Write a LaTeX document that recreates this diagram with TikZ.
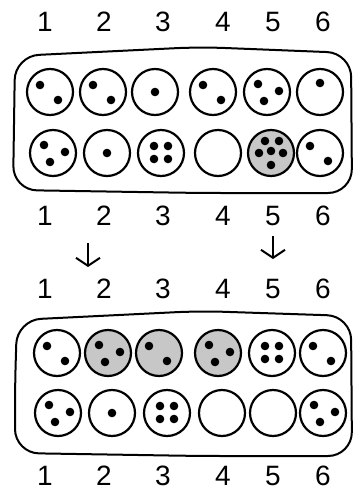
\documentclass[tikz,border=0pt]{standalone}
\usepackage{fontspec}
\setmainfont{Liberation Sans}
\usetikzlibrary{arrows.meta}

\tikzset{
  pit/.style={circle, draw, line width=2.2pt, minimum size=46pt, inner sep=0pt},
  plein/.style={pit, fill=black!22},
  board/.style={line width=2pt, rounded corners=24pt},
  numero/.style={font=\fontsize{28}{30}\selectfont, inner sep=0pt},
  fleche/.style={line width=2pt, -{Straight Barb[length=8pt,width=24pt,line width=2pt]}},
}

% graines dans un trou : #1 nom du trou, #2 nombre de graines
\newcommand{\graines}[2]{%
  \ifcase#2
  \or \fill[shift={(#1)}] (0,0) circle (4.3);
  \or \fill[shift={(#1)}] (-10,-7) circle (4.3) (8,8) circle (4.3);
  \or \fill[shift={(#1)}] (-9,-8) circle (4.3) (12,-1) circle (4.3) (-3,9) circle (4.3);
  \or \fill[shift={(#1)}] (-7,-7) circle (4.3) (7,-7) circle (4.3) (-7,6) circle (4.3) (7,6) circle (4.3);
  \or
  \or \fill[shift={(#1)}] (-6,-12) circle (4.3) (8,-12) circle (4.3) (-12,0) circle (4.3)
        (0,-2) circle (4.3) (12,0) circle (4.3) (0,12) circle (4.3);
  \fi}

\begin{document}
\begin{tikzpicture}[x=1pt, y=-1pt]
\useasboundingbox (0,0) rectangle (360,493);

% Numeros des trous
\foreach \y/\r in {22/a, 216/b, 289/c, 476/d}
  \foreach \x [count=\i] in {45,104,163,223,273,323}
    \node[numero] (n\r-\i) at (\x,\y) {\i};

% Plateau du haut
\draw[board] (14,125) -- (15,56) -- (200,47) -- (351,53) -- (352,193) -- (200,193) -- (13,190) -- cycle;

\foreach \x/\n/\s [count=\i] in {50/2/pit, 103/2/pit, 155/1/pit, 213/2/pit, 267/3/pit, 320/0/pit} {
  \node[\s] (h1-\i) at (\x,92) {};
  \graines{h1-\i}{\n}
}
% graine unique en haut du trou 6
\fill[shift={(h1-6)}] (0,-9) circle (4.3);

\foreach \x/\n/\s [count=\i] in {53/3/pit, 107/1/pit, 161/4/pit, 218/0/pit, 271/6/plein, 320/2/pit} {
  \node[\s] (h2-\i) at (\x,153) {};
  \graines{h2-\i}{\n}
}

% Fleches
\coordinate (f1a) at (88,243);
\coordinate (f1b) at (88,267);
\coordinate (f2a) at (273,236);
\coordinate (f2b) at (273,259);
\draw[fleche] (f1a) -- (f1b);
\draw[fleche] (f2a) -- (f2b);

% Plateau du bas
\draw[board] (15,385) -- (17,320) -- (200,311) -- (351,316) -- (352,456) -- (200,456) -- (15,453) -- cycle;

\foreach \x/\n/\s [count=\i] in {57/2/pit, 108/3/plein, 159/2/plein, 218/3/plein, 272/4/pit, 323/2/pit} {
  \node[\s] (b1-\i) at (\x,353) {};
  \graines{b1-\i}{\n}
}

\foreach \x/\n/\s [count=\i] in {58/3/pit, 112/1/pit, 167/4/pit, 222/0/pit, 273/0/pit, 323/3/pit} {
  \node[\s] (b2-\i) at (\x,413) {};
  \graines{b2-\i}{\n}
}

\end{tikzpicture}
\end{document}
